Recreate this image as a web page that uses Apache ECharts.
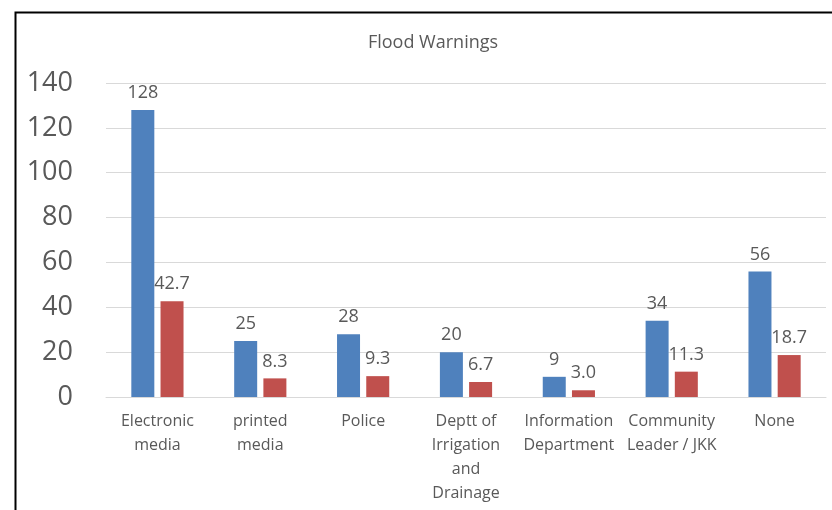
<!DOCTYPE html>
<html>
<head>
<meta charset="utf-8">
<script src="https://cdn.jsdelivr.net/npm/echarts@6/dist/echarts.min.js"></script>
<style>
  html, body { margin: 0; padding: 0; background: #ffffff; }
  #chart { width: 832px; height: 510px; }
</style>
</head>
<body>
<div id="chart"></div>
<script>
// Sources of flood warnings: counts and percentages
const categories = [
  'Electronic\nmedia',
  'printed\nmedia',
  'Police',
  'Deptt of\nIrrigation\nand\nDrainage',
  'Information\nDepartment',
  'Community\nLeader / JKK',
  'None'
];
const counts = [128, 25, 28, 20, 9, 34, 56];
const percents = [42.7, 8.3, 9.3, 6.7, 3.0, 11.3, 18.7];
const yTicks = { min: 0, max: 140, interval: 20 };

const textColor = '#595959';
const font = 'Open Sans';
const chart = echarts.init(document.getElementById('chart'));

chart.setOption({
  animation: false,
  backgroundColor: '#ffffff',
  title: {
    text: 'Flood Warnings',
    left: 428,
    top: 29,
    textAlign: 'center',
    textStyle: { fontFamily: font, fontSize: 18, fontWeight: 'normal', color: textColor }
  },
  graphic: [{
    type: 'rect',
    left: 13,
    top: 10,
    shape: { width: 900, height: 600 },
    style: { fill: 'none', stroke: '#000000', lineWidth: 2 },
    z: 100
  }],
  grid: { left: 106, right: 6, top: 83, bottom: 113 },
  xAxis: {
    type: 'category',
    data: categories,
    axisLine: { lineStyle: { color: '#d9d9d9', width: 1 } },
    axisTick: { show: false },
    axisLabel: {
      color: textColor,
      fontFamily: font,
      fontSize: 16,
      lineHeight: 24,
      margin: 12,
      interval: 0
    }
  },
  yAxis: {
    type: 'value',
    min: yTicks.min,
    max: yTicks.max,
    interval: yTicks.interval,
    axisLine: { show: false },
    axisTick: { show: false },
    splitLine: { lineStyle: { color: '#d9d9d9', width: 1 } },
    axisLabel: { color: textColor, fontFamily: font, fontSize: 27, margin: 33 }
  },
  series: [
    {
      name: 'Count',
      type: 'bar',
      data: counts,
      barWidth: 23,
      barGap: '27%',
      itemStyle: { color: '#4f81bd' },
      label: {
        show: true,
        position: 'top',
        distance: 8,
        color: textColor,
        fontFamily: font,
        fontSize: 18
      }
    },
    {
      name: 'Percent',
      type: 'bar',
      data: percents,
      barWidth: 23,
      itemStyle: { color: '#c0504d' },
      label: {
        show: true,
        position: 'top',
        distance: 8,
        color: textColor,
        fontFamily: font,
        fontSize: 18,
        formatter: p => p.value.toFixed(1)
      }
    }
  ]
});
</script>
</body>
</html>
